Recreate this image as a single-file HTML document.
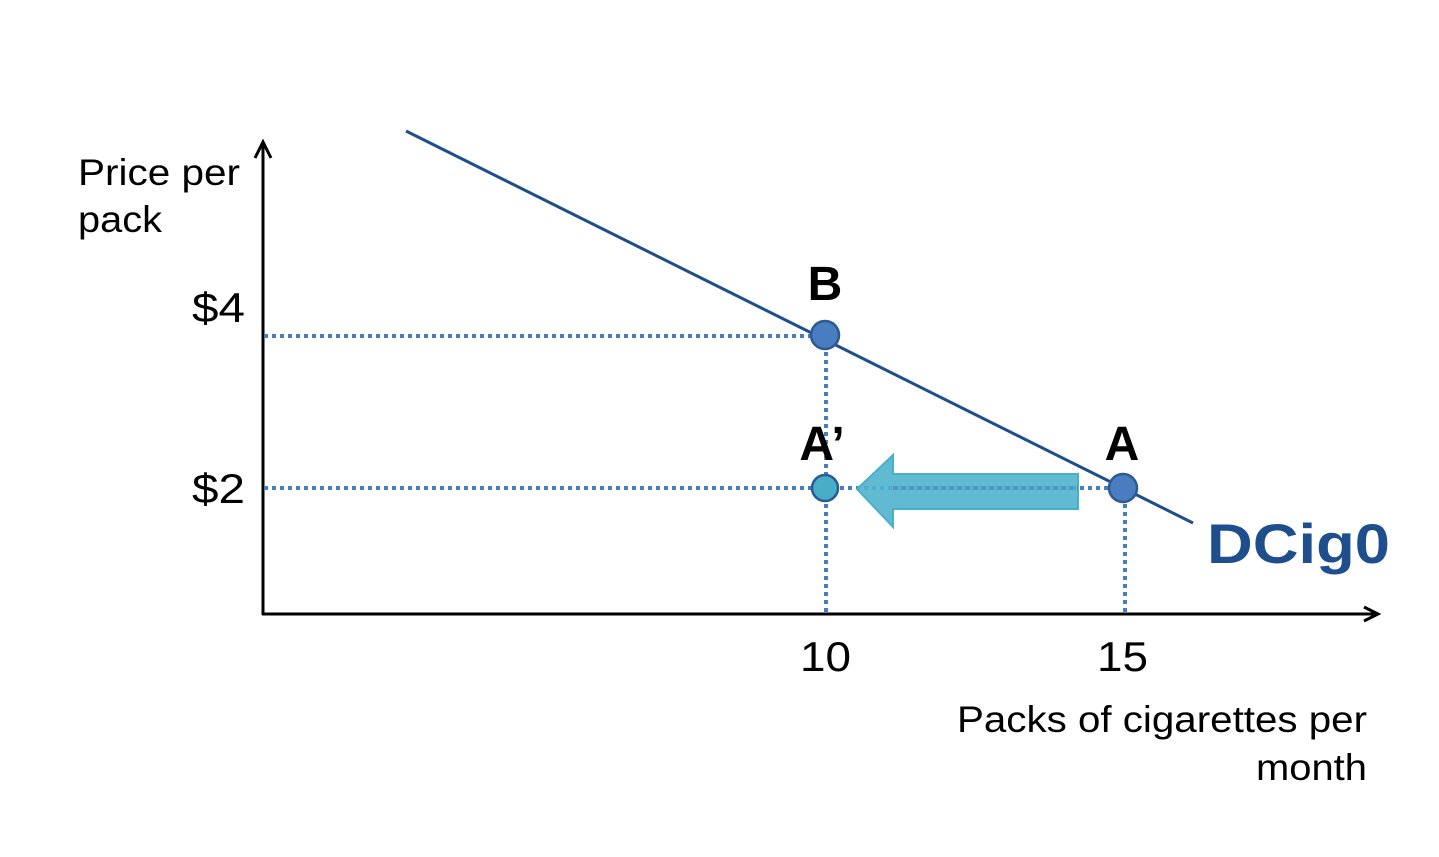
<!DOCTYPE html>
<html><head><style>
body{margin:0;background:#fff;}
svg text{font-family:"Liberation Sans",Arial,sans-serif;}
</style></head><body>
<svg width="1439" height="852" viewBox="0 0 1439 852" xmlns="http://www.w3.org/2000/svg">
<rect width="1439" height="852" fill="#fff"/>
<line x1="263" y1="144" x2="263" y2="615" stroke="#000" stroke-width="3"/>
<path d="M255,158 L263,142 L271,158" fill="none" stroke="#000" stroke-width="3"/>
<line x1="262" y1="614" x2="1376" y2="614" stroke="#000" stroke-width="3"/>
<path d="M1364,607 L1378,614 L1364,621" fill="none" stroke="#000" stroke-width="3"/>
<g stroke="#4a7cc0" stroke-width="4" stroke-dasharray="4,4">
<line x1="264" y1="336" x2="825" y2="336"/>
<line x1="264" y1="488" x2="1123" y2="488"/>
<line x1="826" y1="336" x2="826" y2="612"/>
<line x1="1125" y1="488" x2="1125" y2="612"/>
</g>
<line x1="406" y1="131" x2="1193" y2="523" stroke="#1f4e8c" stroke-width="3"/>
<path d="M1078,474 L893,474 L893,455 L857,489 L893,527 L893,509 L1078,509 Z" fill="#4fb3cc" fill-opacity="0.9" stroke="#4aafc9" stroke-width="2"/>
<line x1="893" y1="488" x2="1078" y2="488" stroke="#4a7cc0" stroke-width="4" stroke-dasharray="4,4" opacity="0.6"/>
<circle cx="825" cy="335" r="14" fill="#4a7cc0" stroke="#2d5a94" stroke-width="2.5"/>
<circle cx="825" cy="488" r="13" fill="#48aec8" stroke="#2d5a94" stroke-width="2.5"/>
<circle cx="1123" cy="488" r="14" fill="#4a7cc0" stroke="#2d5a94" stroke-width="2.5"/>
<text x="78" y="185" font-size="37" textLength="162" lengthAdjust="spacingAndGlyphs">Price per</text>
<text x="78" y="232" font-size="37" textLength="84" lengthAdjust="spacingAndGlyphs">pack</text>
<text x="192" y="322" font-size="42" textLength="53" lengthAdjust="spacingAndGlyphs">$4</text>
<text x="192" y="503" font-size="42" textLength="53" lengthAdjust="spacingAndGlyphs">$2</text>
<text x="825" y="300" font-size="48" font-weight="bold" text-anchor="middle">B</text>
<text x="822" y="460" font-size="48" font-weight="bold" text-anchor="middle">A’</text>
<text x="1122" y="460" font-size="48" font-weight="bold" text-anchor="middle">A</text>
<text x="1207" y="563" font-size="56" font-weight="bold" fill="#1f4e8c" textLength="183" lengthAdjust="spacingAndGlyphs">DCig0</text>
<text x="800" y="671" font-size="42" textLength="51" lengthAdjust="spacingAndGlyphs">10</text>
<text x="1097" y="671" font-size="42" textLength="51" lengthAdjust="spacingAndGlyphs">15</text>
<text x="957" y="732" font-size="37" textLength="410" lengthAdjust="spacingAndGlyphs">Packs of cigarettes per</text>
<text x="1256" y="780" font-size="37" textLength="111" lengthAdjust="spacingAndGlyphs">month</text>
</svg>
</body></html>
